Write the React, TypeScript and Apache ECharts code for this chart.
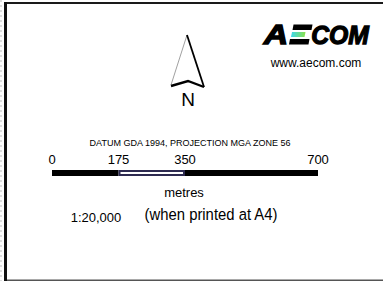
import React, { useEffect, useRef } from "react";
import * as echarts from "echarts";

// Scale bar breaks (metres) and tick labels
const scaleBreaks = [0, 175, 350, 700];
const tickLabels = ["0", "175", "350", "700"];
const segmentNames = ["seg1", "seg2", "seg3"];
const segmentColors = ["#000000", "#ffffff", "#000000"];
const segmentBorders = ["#000000", "#2d2a50", "#000000"];

const datumText = "DATUM GDA 1994, PROJECTION MGA ZONE 56";
const unitText = "metres";
const ratioText = "1:20,000";
const printText = "(when printed at A4)";
const urlText = "www.aecom.com";
const northText = "N";

const FONT = "'Liberation Sans', Arial, Helvetica, sans-serif";

export default function App() {
  const ref = useRef<HTMLDivElement>(null);
  useEffect(() => {
    document.body.style.margin = "0";
    const chart = echarts.init(ref.current!, null, { renderer: "svg" });
    const segs = scaleBreaks.slice(1).map((v, i) => v - scaleBreaks[i]);
    const txt = (text: string, x: number, y: number, size: number, extra: any = {}, el: any = {}) => ({
      type: "text",
      x,
      y,
      silent: true,
      ...el,
      style: {
        text,
        fill: "#000",
        fontSize: size,
        fontFamily: FONT,
        align: "center",
        verticalAlign: "middle",
        ...extra,
      },
    });
    const logoFont = { fontWeight: "bold", fontStyle: "italic", stroke: "#000", lineWidth: 1.3 };
    chart.setOption({
      animation: false,
      backgroundColor: "#ffffff",
      grid: { left: 52, width: 266, top: 169, height: 8 },
      xAxis: {
        type: "value",
        position: "top",
        min: 0,
        max: 700,
        interval: 175,
        axisLine: { show: false },
        axisTick: { show: false },
        splitLine: { show: false },
        axisLabel: {
          margin: 3,
          fontSize: 13,
          color: "#000",
          fontFamily: FONT,
          formatter: (v: number) => {
            const i = scaleBreaks.indexOf(v);
            return i >= 0 ? tickLabels[i] : "";
          },
        },
      },
      yAxis: { type: "category", data: ["scale"], show: false },
      series: segs.map((len, i) => ({
        type: "bar",
        name: segmentNames[i],
        stack: "bar",
        barWidth: 6,
        data: [len],
        itemStyle: {
          color: segmentColors[i],
          borderColor: segmentBorders[i],
          borderWidth: 2,
        },
      })),
      graphic: [
        // frame
        { type: "rect", shape: { x: 4, y: 2, width: 379, height: 2 }, style: { fill: "#1a1a1a" } },
        { type: "rect", shape: { x: 4, y: 2, width: 3, height: 279 }, style: { fill: "#111" } },
        { type: "rect", shape: { x: 7, y: 279.5, width: 376, height: 1.5 }, style: { fill: "#555" } },
        {
          type: "line",
          shape: { x1: 1, y1: 0, x2: 1, y2: 281 },
          style: { stroke: "#bbb", lineWidth: 1, lineDash: [2, 3] },
        },
        // north arrow
        {
          type: "polygon",
          shape: { points: [[187, 35], [171, 85], [188, 81], [204, 87]] },
          style: { fill: "#fff" },
        },
        {
          type: "polyline",
          shape: { points: [[171, 85], [187, 35]] },
          style: { stroke: "#888", lineWidth: 0.8, fill: null },
        },
        {
          type: "polyline",
          shape: { points: [[187, 35], [204, 87]] },
          style: { stroke: "#000", lineWidth: 1.8, fill: null },
        },
        {
          type: "polyline",
          shape: { points: [[171, 86], [188, 81], [204, 87]] },
          style: { stroke: "#000", lineWidth: 2.4, fill: null },
        },
        txt(northText, 188, 99, 19),
        // AECOM logo
        txt("A", 0, 0, 27, logoFont, { x: 276, y: 34.5, scaleX: 1.25 }),
        {
          type: "polygon",
          shape: { points: [[293.5, 24.5], [312.5, 24.5], [311.5, 30], [292.5, 30]] },
          style: { fill: "#000" },
        },
        {
          type: "polygon",
          shape: { points: [[292, 32], [305.5, 32], [304.5, 37], [291, 37]] },
          style: {
            fill: new echarts.graphic.LinearGradient(0, 0, 1, 0, [
              { offset: 0, color: "#3fd8ec" },
              { offset: 1, color: "#8be04a" },
            ]),
          },
        },
        {
          type: "polygon",
          shape: { points: [[290, 39], [309.5, 39], [308.5, 44.5], [289, 44.5]] },
          style: { fill: "#000" },
        },
        txt("COM", 0, 0, 26, logoFont, { x: 340, y: 34.5, scaleX: 0.95 }),
        txt(urlText, 316, 63, 12),
        // texts
        txt(datumText, 190, 143, 9),
        txt(unitText, 184, 192, 13),
        txt(ratioText, 96, 217, 13),
        txt(printText, 0, 0, 16.5, {}, { x: 211, y: 214, scaleX: 0.9 }),
      ],
    });
    return () => chart.dispose();
  }, []);
  return (
    <div
      ref={ref}
      style={{ position: "fixed", left: 0, top: 0, width: 383, height: 281 }}
    />
  );
}
